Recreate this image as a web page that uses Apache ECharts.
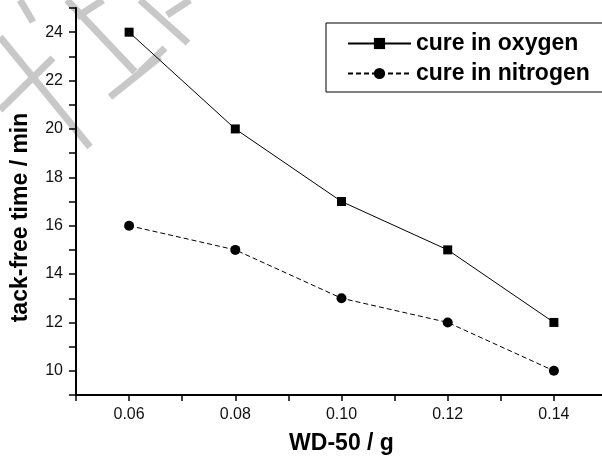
<!DOCTYPE html>
<html>
<head>
<meta charset="utf-8">
<script src="https://cdn.jsdelivr.net/npm/echarts@6/dist/echarts.min.js"></script>
<style>
  html, body { margin: 0; padding: 0; background: #fff; }
  #chart { width: 602px; height: 463px; }
</style>
</head>
<body>
<div id="chart"></div>
<script>
// WD-50 amount (g)
var wdAmount = [0.06, 0.08, 0.10, 0.12, 0.14];
// tack-free time (min)
var cureOxygen = [24, 20, 17, 15, 12];
var cureNitrogen = [16, 15, 13, 12, 10];
var seriesNames = ['cure in oxygen', 'cure in nitrogen'];

function pairs(ys) {
  return wdAmount.map(function (x, i) { return [x, ys[i]]; });
}

var font = 'Liberation Sans, Arial, sans-serif';
var chart = echarts.init(document.getElementById('chart'));

// faint grey watermark strokes in the top-left corner of the scan
var wmStrokes = [
  [20, 0, 33, 22], [0, 37, 90, 147], [53, 58, 0, 110], [67, 0, 135, 72],
  [110, 97, 160, 57], [77, 17, 103, 0], [140, 0, 188, 43], [167, 15, 190, 0],
  [140, 72, 165, 48]
];
var wmGraphics = wmStrokes.map(function (s) {
  return {
    type: 'line', z: -10, silent: true,
    shape: { x1: s[0], y1: s[1], x2: s[2], y2: s[3] },
    style: { stroke: '#c8c8c8', lineWidth: 7 }
  };
});

var option = {
  backgroundColor: '#fff',
  animation: false,
  graphic: wmGraphics,
  grid: { left: 76, width: 531, top: 8, bottom: 68, outerBoundsMode: 'none', containLabel: false },
  legend: {
    orient: 'vertical',
    left: 326,
    top: 23,
    padding: [9, 20, 7, 21],
    itemGap: 7,
    itemWidth: 63,
    itemHeight: 14,
    borderColor: '#000',
    borderWidth: 1,
    backgroundColor: '#fff',
    textStyle: { fontFamily: font, fontSize: 23, fontWeight: 'bold', color: '#000' },
    data: seriesNames
  },
  xAxis: {
    type: 'value',
    min: 0.05,
    max: 0.15,
    interval: 0.01,
    name: 'WD-50 / g',
    nameLocation: 'middle',
    nameGap: 37,
    nameTextStyle: { fontFamily: font, fontSize: 23, fontWeight: 'bold', color: '#000' },
    axisLine: { lineStyle: { color: '#000', width: 2 } },
    axisTick: { length: 6, lineStyle: { color: '#000', width: 1.5 } },
    splitLine: { show: false },
    axisLabel: {
      margin: 12,
      fontFamily: font,
      fontSize: 16,
      color: '#111',
      formatter: function (v) {
        var n = Math.round(v * 100);
        return n % 2 === 0 ? (n / 100).toFixed(2) : '';
      }
    }
  },
  yAxis: {
    type: 'value',
    min: 9,
    max: 25,
    interval: 1,
    name: 'tack-free time / min',
    nameLocation: 'middle',
    nameGap: 44,
    nameTextStyle: {
      fontFamily: font, fontSize: 23, fontWeight: 'bold', color: '#000',
      padding: [0, 32, 0, 0]
    },
    axisLine: { show: true, lineStyle: { color: '#000', width: 2 } },
    axisTick: { show: true, length: 7, lineStyle: { color: '#000', width: 1.5 } },
    splitLine: { show: false },
    axisLabel: {
      margin: 13,
      fontFamily: font,
      fontSize: 16,
      color: '#111',
      formatter: function (v) {
        return Math.round(v) % 2 === 0 ? String(Math.round(v)) : '';
      }
    }
  },
  series: [
    {
      name: seriesNames[0],
      type: 'line',
      data: pairs(cureOxygen),
      symbol: 'rect',
      symbolSize: 9,
      itemStyle: { color: '#000' },
      lineStyle: { color: '#000', width: 1 }
    },
    {
      name: seriesNames[1],
      type: 'line',
      data: pairs(cureNitrogen),
      symbol: 'circle',
      symbolSize: 10,
      itemStyle: { color: '#000' },
      lineStyle: { color: '#000', width: 1, type: [5, 3] }
    }
  ]
};

chart.setOption(option);
</script>
</body>
</html>
